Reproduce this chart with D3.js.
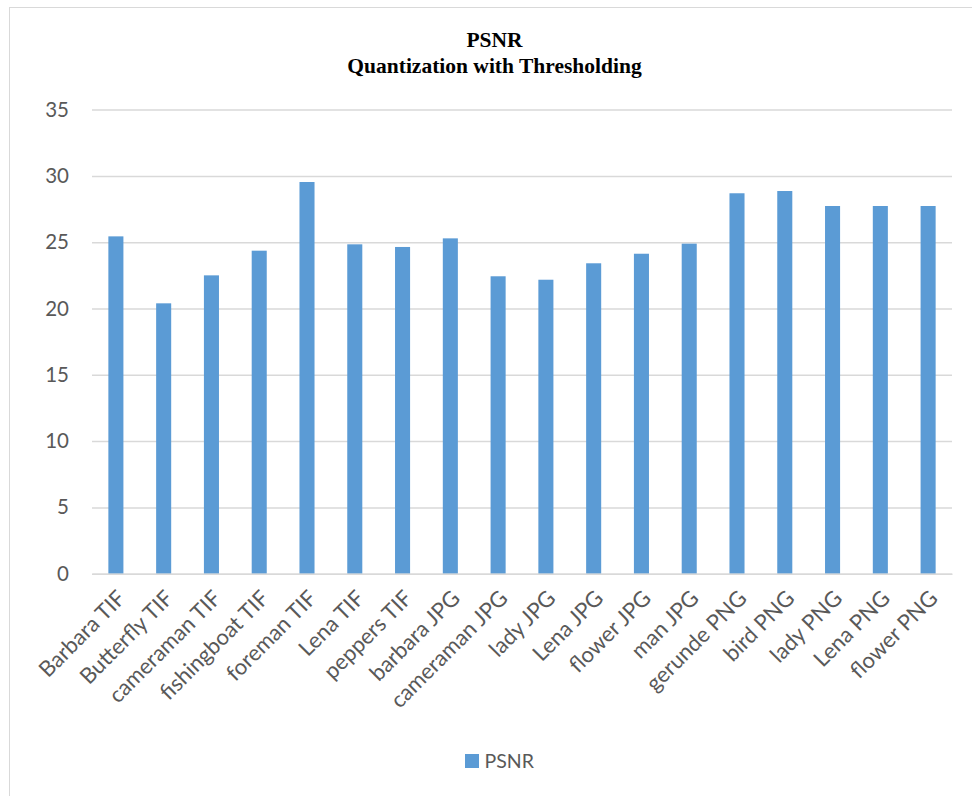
<!DOCTYPE html>
<html>
<head>
<meta charset="utf-8">
<script src="https://cdn.jsdelivr.net/npm/d3@7"></script>
<style>
  html, body { margin: 0; padding: 0; background: #fff; }
  svg { display: block; }
</style>
</head>
<body>
<svg id="chart" width="972" height="796"></svg>
<script>
// PSNR per test image, quantization with thresholding
const categories = [
  "Barbara TIF", "Butterfly TIF", "cameraman TIF", "fishingboat TIF", "foreman TIF",
  "Lena TIF", "peppers TIF", "barbara JPG", "cameraman JPG", "lady JPG",
  "Lena JPG", "flower JPG", "man JPG", "gerunde PNG", "bird PNG",
  "lady PNG", "Lena PNG", "flower PNG"
];
const psnr = [
  25.44, 20.39, 22.50, 24.36, 29.54,
  24.84, 24.64, 25.29, 22.43, 22.17,
  23.41, 24.13, 24.89, 28.69, 28.86,
  27.73, 27.73, 27.73
];
const yTicks = [0, 5, 10, 15, 20, 25, 30, 35];
const seriesName = "PSNR";
const titleLines = ["PSNR", "Quantization with Thresholding"];

const svg = d3.select("#chart");
const W = 972, H = 796;
const plot = { left: 92, right: 952, top: 109.6, bottom: 573.7 };
const labelFont = "Lato, 'Open Sans', sans-serif";
const textColor = "#595959";
const barColor = "#5b9bd5";
const gridColor = "#d9d9d9";

// outer chart frame
svg.append("rect")
  .attr("x", 9.5).attr("y", 7.5)
  .attr("width", W).attr("height", H)
  .attr("fill", "#fff").attr("stroke", "#d9d9d9").attr("stroke-width", 1);

// title
svg.append("g").selectAll("text").data(titleLines).join("text")
  .attr("x", 494.5).attr("y", (d, i) => 47.3 + i * 26)
  .attr("text-anchor", "middle")
  .attr("font-family", "'Liberation Serif', 'Times New Roman', serif")
  .attr("font-weight", "bold").attr("font-size", 21.5)
  .attr("fill", "#000")
  .text(d => d);

const x = d3.scaleBand().domain(categories)
  .range([plot.left, plot.right]).paddingInner(0.685).paddingOuter(0.3425);
const y = d3.scaleLinear().domain([0, 35]).range([plot.bottom, plot.top]);

// horizontal gridlines with value labels
const yAxis = d3.axisLeft(y).tickValues(yTicks)
  .tickSize(-(plot.right - plot.left)).tickPadding(23);
const gy = svg.append("g").attr("transform", `translate(${plot.left},0)`).call(yAxis);
gy.select(".domain").remove();
gy.selectAll(".tick line").attr("stroke", gridColor).attr("stroke-width", 1.5);
gy.selectAll(".tick text")
  .attr("font-family", labelFont).attr("font-size", 20.5).attr("fill", textColor);

// bars
svg.append("g").selectAll("rect").data(categories).join("rect")
  .attr("x", d => x(d))
  .attr("y", (d, i) => y(psnr[i]))
  .attr("width", x.bandwidth())
  .attr("height", (d, i) => y(0) - y(psnr[i]))
  .attr("fill", barColor);

// category axis
const xAxis = d3.axisBottom(x).tickSize(0).tickPadding(0);
const gx = svg.append("g").attr("transform", `translate(0,${plot.bottom})`).call(xAxis);
gx.select(".domain").attr("stroke", gridColor).attr("stroke-width", 1.5);
gx.selectAll(".tick text")
  .attr("font-family", labelFont).attr("font-size", 22).attr("fill", textColor)
  .attr("text-anchor", "end")
  .attr("dy", 0)
  .attr("transform", "translate(11,26) rotate(-45)");

// legend
const lg = svg.append("g").attr("transform", "translate(465,754)");
lg.append("rect").attr("width", 14).attr("height", 14).attr("fill", barColor);
lg.append("text").attr("x", 19.5).attr("y", 14)
  .attr("font-family", labelFont).attr("font-size", 19.5).attr("fill", textColor)
  .text(seriesName);
</script>
</body>
</html>
